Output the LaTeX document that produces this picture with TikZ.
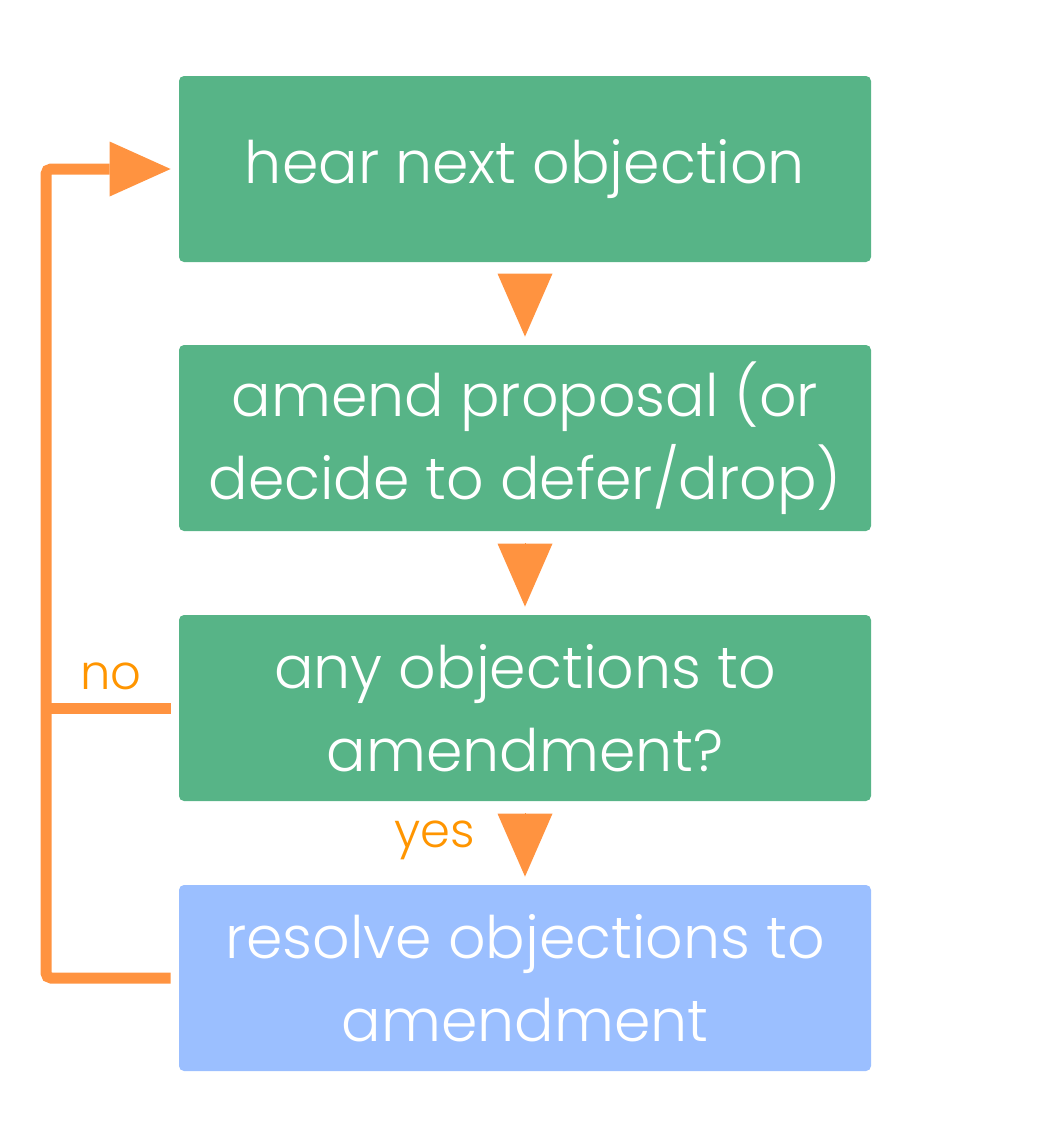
\documentclass[tikz,border=0pt]{standalone}
\usepackage{fontspec}
\setmainfont{Poppins}[UprightFont=* Light]
\usetikzlibrary{arrows.meta}
\definecolor{boxgreen}{HTML}{57B487}
\definecolor{boxblue}{HTML}{9BBFFF}
\definecolor{lineorange}{HTML}{FF9340}
\definecolor{labelorange}{HTML}{FF9500}

\begin{document}
\begin{tikzpicture}[x=0.5pt,y=-0.5pt,
  box/.style={fill=boxgreen, rounded corners=2.5pt, minimum width=346pt,
    minimum height=93pt, inner sep=0pt, text=white, align=center,
    font=\fontsize{29.3}{41.5}\selectfont},
  flow/.style={draw=lineorange, line width=0.1pt, shorten <=6pt, shorten >=4pt,
    -{Triangle[length=31.5pt,width=27.5pt,line width=0pt,fill=lineorange]}},
  loopline/.style={draw=lineorange, line width=5.5pt, rounded corners=2.5pt,
    shorten <=4pt},
  lbl/.style={text=labelorange, font=\fontsize{24}{28}\selectfont, inner sep=0pt}]
\useasboundingbox (0,0) rectangle (1049,1147);

\node[box] (hear) at (525,169) {hear next objection};
\node[box] (amend) at (525,438) {amend proposal (or\\decide to defer/drop)};
\node[box] (any) at (525,708) {any objections to\\amendment?};
\node[box, fill=boxblue] (resolve) at (525,978) {resolve objections to\\amendment};

\coordinate (rail) at (46,708);

\draw[flow] (hear) -- (amend);
\draw[flow] (amend) -- (any);
\draw[flow] (any) -- (resolve);

% loop back
\draw[loopline, shorten >=0.5pt,
  -{Triangle[length=30.5pt,width=27.5pt,line width=0pt,sep=3.5pt]}]
  (resolve.west) -- (resolve.west -| rail) -- (hear.west -| rail) -- (hear.west);
\draw[loopline] (any.west) -- (rail);

\node[lbl] (no) at (111,676) {no};
\node[lbl] (yes) at (435,840) {yes};
\end{tikzpicture}
\end{document}
